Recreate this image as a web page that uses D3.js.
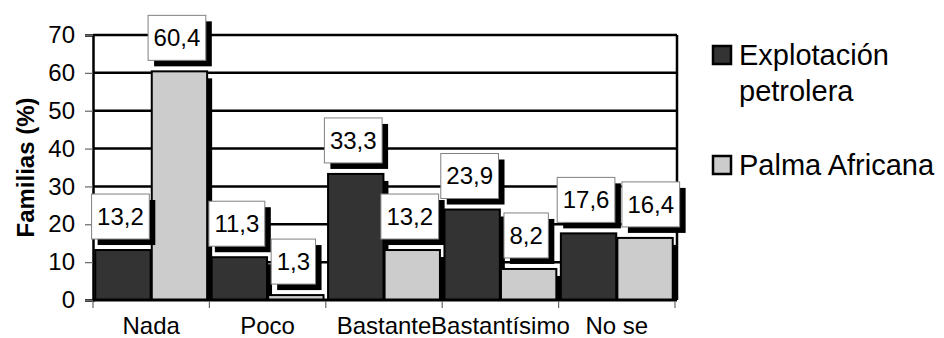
<!DOCTYPE html>
<html>
<head>
<meta charset="utf-8">
<script src="https://cdn.jsdelivr.net/npm/d3@7"></script>
<style>
  html, body { margin: 0; padding: 0; background: #fff; }
  svg { display: block; font-family: "Liberation Sans", Arial, sans-serif; }
  svg text { font-family: "Liberation Sans", Arial, sans-serif; }
</style>
</head>
<body>
<svg id="chart" width="944" height="338"></svg>
<script>
// Categories and series
const categories = ["Nada", "Poco", "Bastante", "Bastantísimo", "No se"];
const seriesNames = ["Explotación petrolera", "Palma Africana"];
const explotacion = [13.2, 11.3, 33.3, 23.9, 17.6];
const palma = [60.4, 1.3, 13.2, 8.2, 16.4];
const yTicks = [0, 10, 20, 30, 40, 50, 60, 70];
const colors = ["#333333", "#cccccc"];

const seriesValues = [explotacion, palma];
const FONT = "'Liberation Sans', Arial, sans-serif";

const svg = d3.select("#chart");
const plot = { left: 93, right: 675, top: 35, bottom: 300 };
const frameRight = plot.right + 2;

const y = d3.scaleLinear().domain([0, 70]).range([plot.bottom, plot.top]);
const x0 = d3.scaleBand().domain(categories).range([plot.left, plot.right]);
const x1 = d3.scaleBand().domain(seriesNames).range([0, x0.bandwidth()])
  .paddingInner(0.02).paddingOuter(0.04);

const fmt = d3.formatLocale({ decimal: ",", thousands: ".", grouping: [3], currency: ["", ""] }).format(".1f");

// Horizontal gridlines
svg.append("g").selectAll("line")
  .data(yTicks.filter(t => t > 0))
  .join("line")
  .attr("x1", plot.left).attr("x2", frameRight)
  .attr("y1", d => y(d)).attr("y2", d => y(d))
  .attr("stroke", "#000").attr("stroke-width", 2.5);

// Right frame edge
svg.append("line")
  .attr("x1", frameRight).attr("x2", frameRight)
  .attr("y1", y(70)).attr("y2", plot.bottom)
  .attr("stroke", "#000").attr("stroke-width", 2.5);

// Bars data
const bars = [];
categories.forEach((c, i) => {
  seriesNames.forEach((s, j) => {
    bars.push({ cat: c, series: s, value: seriesValues[j][i], color: colors[j] });
  });
});

const shadowDx = 5, shadowDy = 7;
const barW = x1.bandwidth();

// Bar shadows
svg.append("g").selectAll("rect")
  .data(bars)
  .join("rect")
  .attr("x", d => x0(d.cat) + x1(d.series) + shadowDx)
  .attr("y", d => Math.min(y(d.value) + shadowDy, plot.bottom))
  .attr("width", barW)
  .attr("height", d => Math.max(0, plot.bottom - (y(d.value) + shadowDy)))
  .attr("fill", "#000");

// Bars
svg.append("g").selectAll("rect")
  .data(bars)
  .join("rect")
  .attr("x", d => x0(d.cat) + x1(d.series))
  .attr("y", d => y(d.value))
  .attr("width", barW)
  .attr("height", d => plot.bottom - y(d.value))
  .attr("fill", d => d.color)
  .attr("stroke", "#000")
  .attr("stroke-width", 2);

// Y axis
const yAxis = d3.axisLeft(y).tickValues(yTicks).tickSize(8).tickPadding(10).tickFormat(d3.format("d"));
const gy = svg.append("g").attr("transform", `translate(${plot.left},0)`).call(yAxis);
gy.attr("font-family", FONT);
gy.select(".domain").attr("stroke", "#000").attr("stroke-width", 2.5);
gy.selectAll(".tick line").attr("stroke", "#666").attr("stroke-width", 1.2);
gy.selectAll(".tick text").attr("font-size", 24).attr("fill", "#000");

// X axis baseline and tick marks at category boundaries
svg.append("line")
  .attr("x1", plot.left).attr("x2", frameRight)
  .attr("y1", plot.bottom).attr("y2", plot.bottom)
  .attr("stroke", "#000").attr("stroke-width", 3);

const boundaries = categories.map(c => x0(c)).concat([plot.right]);
svg.append("g").selectAll("line")
  .data(boundaries)
  .join("line")
  .attr("x1", d => d).attr("x2", d => d)
  .attr("y1", plot.bottom + 1).attr("y2", plot.bottom + 8)
  .attr("stroke", "#666").attr("stroke-width", 1.2);

svg.append("g").selectAll("text")
  .data(categories)
  .join("text")
  .attr("x", d => x0(d) + x0.bandwidth() / 2)
  .attr("y", 334)
  .attr("text-anchor", "middle")
  .attr("font-size", 24)
  .text(d => d);

// Y axis title
svg.append("text")
  .attr("transform", `translate(34,${(plot.top + plot.bottom) / 2}) rotate(-90)`)
  .attr("text-anchor", "middle")
  .attr("font-size", 24)
  .attr("font-weight", "bold")
  .text("Familias (%)");

// Value labels: white boxes with drop shadow, nudged right when they collide
const boxH = 45, padX = 5.5, boxGap = 11, boxShadow = 6;
const labelLayer = svg.append("g");
const placed = [];
bars.forEach(d => {
  const g = labelLayer.append("g");
  const shadow = g.append("rect").attr("fill", "#000");
  const box = g.append("rect").attr("fill", "#fff").attr("stroke", "#808080").attr("stroke-width", 1);
  const t = g.append("text").attr("font-size", 24).attr("text-anchor", "middle").text(fmt(d.value));
  const w = t.node().getComputedTextLength() + 2 * padX;
  const cx = x0(d.cat) + x1(d.series) + barW / 2 - 2.5;
  let bx = cx - w / 2;
  const by = y(d.value) - boxGap - boxH;
  placed.forEach(p => {
    const vOverlap = by < p.y + p.h && by + boxH > p.y;
    const hOverlap = bx < p.x + p.w && bx + w > p.x;
    if (vOverlap && hOverlap) bx = p.x + p.w + boxShadow + 1;
  });
  placed.push({ x: bx, y: by, w: w, h: boxH });
  shadow.attr("x", bx + boxShadow).attr("y", by + boxShadow).attr("width", w).attr("height", boxH);
  box.attr("x", bx).attr("y", by).attr("width", w).attr("height", boxH);
  t.attr("x", bx + w / 2).attr("y", by + boxH / 2).attr("dy", "0.35em");
});

// Legend
const legend = svg.append("g");
const legendRows = [
  { lines: ["Explotación", "petrolera"], color: colors[0], y: 65 },
  { lines: ["Palma Africana"], color: colors[1], y: 175 }
];
legendRows.forEach(r => {
  legend.append("rect")
    .attr("x", 713).attr("y", r.y - 19)
    .attr("width", 18).attr("height", 18)
    .attr("fill", r.color).attr("stroke", "#000").attr("stroke-width", 2.5);
  const t = legend.append("text")
    .attr("x", 739).attr("y", r.y)
    .attr("font-size", 29);
  r.lines.forEach((l, i) => {
    t.append("tspan").attr("x", 739).attr("dy", i === 0 ? 0 : 36).text(l);
  });
});
</script>
</body>
</html>
